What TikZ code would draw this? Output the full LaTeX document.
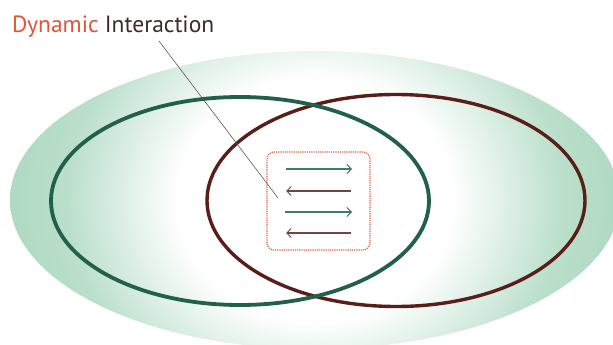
\documentclass[tikz,border=0pt]{standalone}
\usepackage{fontspec}
\setmainfont{PT Sans}
\usetikzlibrary{arrows.meta}
\definecolor{outergreen}{HTML}{AED9C2}
\definecolor{ringgreen}{HTML}{22604A}
\definecolor{ringbrown}{HTML}{5A1E1A}
\definecolor{dynred}{HTML}{E0553A}
\definecolor{txtbrown}{HTML}{3D2A2A}
\definecolor{boxred}{HTML}{E06040}
\definecolor{arrgreen}{HTML}{3F7D66}
\definecolor{arrbrown}{HTML}{6E4644}
\pgfdeclareradialshading{outershade}{\pgfpoint{0bp}{0bp}}{%
  color(0bp)=(white); color(11bp)=(white); color(20bp)=(outergreen!85); color(25bp)=(outergreen); color(50bp)=(outergreen)}
\begin{document}
\begin{tikzpicture}[x=1pt,y=-1pt,
  ring/.style={line width=3.8pt},
  flow/.style={line width=1.1pt,-{Straight Barb[length=4.5pt,width=9pt,line width=1pt]}},
  label/.style={inner sep=0pt,anchor=base west,font=\fontsize{23.5}{28}\selectfont}]
\useasboundingbox (0,0) rectangle (613,345);
% outer shaded ellipse
\begin{scope}
  \clip (315,200) ellipse [x radius=305pt, y radius=149pt];
  \shade[shading=outershade] (315,200) ellipse [x radius=312pt, y radius=275pt];
\end{scope}
% rings
\draw[ring,ringbrown,line width=3.4pt] (396,200.5) ellipse [x radius=189pt, y radius=106pt];
\draw[ring,ringgreen] (240,201) ellipse [x radius=189pt, y radius=104pt];
% dotted box
\node[draw=boxred,densely dotted,line width=1.2pt,rounded corners=7pt,minimum width=103pt,minimum height=98pt,inner sep=0pt] (box) at (318.5,201) {};
% arrows
\coordinate (a1l) at (286,169); \coordinate (a1r) at (352,169);
\coordinate (a2l) at (286,191); \coordinate (a2r) at (351,191);
\coordinate (a3l) at (285,212); \coordinate (a3r) at (352,212);
\coordinate (a4l) at (286,233); \coordinate (a4r) at (351,233);
\draw[flow,arrgreen] (a1l) -- (a1r);
\draw[flow,arrbrown,line width=1.4pt] (a2r) -- (a2l);
\draw[flow,arrgreen] (a3l) -- (a3r);
\draw[flow,arrbrown,line width=1.4pt] (a4r) -- (a4l);
% label and leader
\node[label] (title) at (12,33) {\textcolor{dynred}{Dynamic} \textcolor{txtbrown}{Interaction}};
\coordinate (lstart) at (159,41);
\coordinate (lend) at (278,198);
\draw[gray!70!black,line width=0.6pt] (lstart) -- (lend);
\end{tikzpicture}
\end{document}
